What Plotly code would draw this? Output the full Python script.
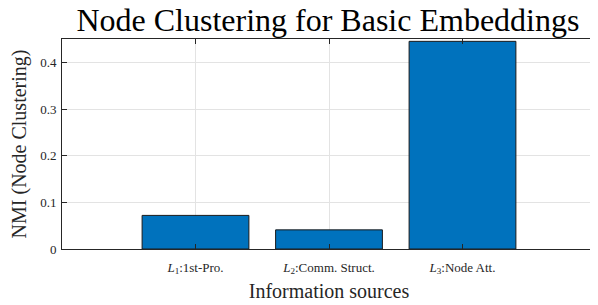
import plotly.graph_objects as go

categories = ["<i>L</i><sub>1</sub>:1st-Pro.",
              "<i>L</i><sub>2</sub>:Comm. Struct.",
              "<i>L</i><sub>3</sub>:Node Att."]
positions = [1, 2, 3]
nmi_values = [0.072, 0.041, 0.445]
y_ticks = [0, 0.1, 0.2, 0.3, 0.4]
y_tick_labels = ["0", "0.1", "0.2", "0.3", "0.4"]

FONT = "Liberation Serif"
AX = "#262626"

fig = go.Figure(go.Bar(
    x=positions, y=nmi_values, width=0.8,
    marker=dict(color="#0072BD", line=dict(color="#1a1a1a", width=1)),
))

fig.update_layout(
    width=598, height=305,
    margin=dict(l=54, r=10, t=31, b=64, autoexpand=False),
    paper_bgcolor="white", plot_bgcolor="white",
    showlegend=False,
    font=dict(family=FONT, color=AX),
    title=dict(text="Node Clustering for Basic Embeddings",
               font=dict(family=FONT, size=32, color="black"),
               x=0.535, xref="container", xanchor="center",
               y=0.962, yref="container", yanchor="middle"),
)
fig.update_xaxes(
    range=[0, 4], tickvals=positions, ticktext=categories,
    showline=True, linecolor=AX, linewidth=1, mirror="ticks",
    ticks="inside", ticklen=5, tickcolor=AX, ticklabelstandoff=6,
    showgrid=True, gridcolor="#e3e3e3", zeroline=False, automargin=False,
    tickfont=dict(family=FONT, size=13, color=AX),
    title=dict(text="Information sources", font=dict(family=FONT, size=20, color=AX), standoff=8),
)
fig.update_yaxes(
    range=[0, 0.45], tickvals=y_ticks, ticktext=y_tick_labels,
    showline=True, linecolor=AX, linewidth=1, mirror="ticks",
    ticks="inside", ticklen=5, tickcolor=AX, ticklabelstandoff=2,
    showgrid=True, gridcolor="#e3e3e3", zeroline=False, automargin=False,
    tickfont=dict(family=FONT, size=13, color=AX),
    title=dict(text="NMI (Node Clustering)", font=dict(family=FONT, size=20, color=AX), standoff=9),
)

fig.write_html("out.html")
